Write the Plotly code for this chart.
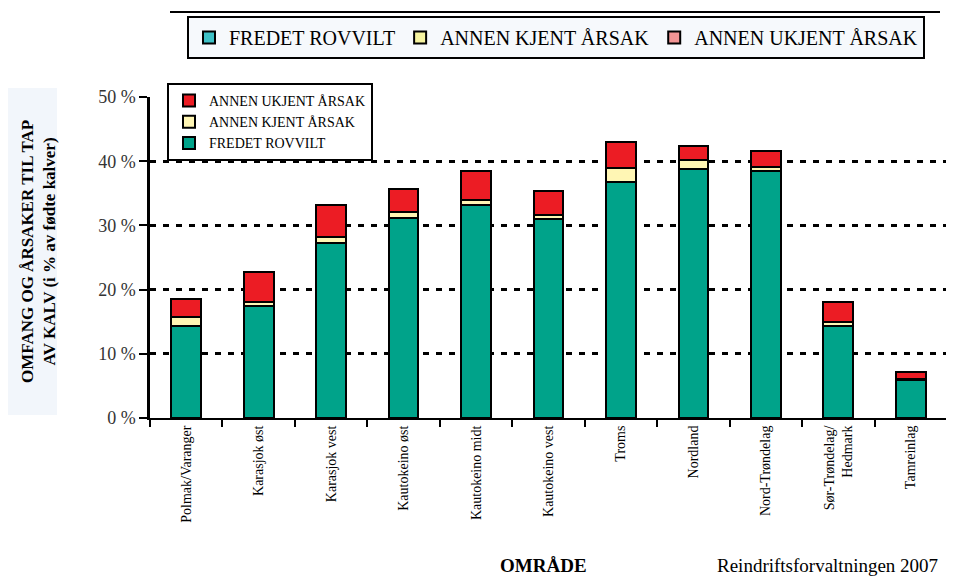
import plotly.graph_objects as go

categories = ["Polmak/Varanger", "Karasjok øst", "Karasjok vest", "Kautokeino øst",
              "Kautokeino midt", "Kautokeino vest", "Troms", "Nordland",
              "Nord-Trøndelag", "Sør-Trøndelag/<br>Hedmark", "Tamreinlag"]
fredet_rovvilt = [14.3, 17.5, 27.3, 31.2, 33.2, 31.0, 36.8, 38.8, 38.5, 14.4, 5.9]
annen_kjent = [1.5, 0.5, 0.9, 0.9, 0.7, 0.6, 2.2, 1.4, 0.6, 0.6, 0.2]
annen_ukjent = [2.7, 4.8, 5.0, 3.6, 4.6, 3.8, 4.0, 2.1, 2.5, 3.0, 1.1]
y_ticks = [0, 10, 20, 30, 40, 50]
y_tick_labels = ["0 %", "10 %", "20 %", "30 %", "40 %", "50 %"]

GREEN = "#00A38A"
YELLOW = "#FFF6B4"
RED = "#EC1C24"
SERIF = "Liberation Serif"

fig = go.Figure()
for name, vals, col in [("FREDET ROVVILT", fredet_rovvilt, GREEN),
                        ("ANNEN KJENT ÅRSAK", annen_kjent, YELLOW),
                        ("ANNEN UKJENT ÅRSAK", annen_ukjent, RED)]:
    fig.add_trace(go.Bar(x=categories, y=vals, name=name, marker_color=col,
                         marker_line=dict(color="black", width=2), legend="legend"))

# top legend entries (different palette)
for name, col in [("FREDET ROVVILT", "#3EC1C6"), ("ANNEN KJENT ÅRSAK", "#F6F4A0"),
                  ("ANNEN UKJENT ÅRSAK", "#F29494")]:
    fig.add_trace(go.Bar(x=[None], y=[None], name=name, marker_color=col,
                         marker_line=dict(color="black", width=2), legend="legend2",
                         showlegend=True))

OFF = 8  # page offset of the figure inside the browser page
W, H = 946, 570
L, R, T, B = 150 - OFF, 7, 97 - OFF, 160
pw, ph = W - L - R, H - T - B

def px(x):
    return (x - OFF - L) / pw

def py(y):
    return (H - B - (y - OFF)) / ph

fig.update_layout(
    width=W, height=H,
    margin=dict(l=L, r=R, t=T, b=B, autoexpand=False),
    barmode="stack", bargap=0.59,
    plot_bgcolor="white", paper_bgcolor="white",
    font=dict(family=SERIF, color="black"),
    legend=dict(x=px(167), y=py(83), xanchor="left", yanchor="top",
                traceorder="reversed", bgcolor="white", bordercolor="black",
                borderwidth=2, font=dict(size=14, family=SERIF),
                tracegroupgap=0, itemwidth=30),
    legend2=dict(x=px(556), y=py(16), xanchor="center", yanchor="top",
                 orientation="h", traceorder="normal", bgcolor="#F6F9FC",
                 bordercolor="black", borderwidth=2,
                 font=dict(size=20, family=SERIF), itemwidth=30),
    xaxis=dict(showline=True, linecolor="black", linewidth=2,
               tickangle=-90, tickfont=dict(size=14, family=SERIF),
               showgrid=False, ticks="outside", tickson="boundaries",
               ticklen=7, tickwidth=2, tickcolor="black"),
    yaxis=dict(range=[0, 50], tickvals=y_ticks, ticktext=y_tick_labels,
               showline=True, linecolor="black", linewidth=2.5,
               ticks="outside", ticklen=8, tickwidth=2, tickcolor="black",
               tickfont=dict(size=18, family=SERIF, color="#333"),
               showgrid=True, gridcolor="black", gridwidth=3,
               griddash="6px,7px", zeroline=False),
    showlegend=True,
)

shapes = [
    dict(type="rect", xref="paper", yref="paper", x0=px(5), x1=px(57),
         y0=py(415), y1=py(88), fillcolor="#F2F6FB", line=dict(width=0),
         layer="below"),
    dict(type="line", xref="paper", yref="paper", x0=px(170), x1=px(940),
         y0=py(12), y1=py(12), line=dict(color="black", width=2)),
]
fig.update_layout(shapes=shapes)

fig.add_annotation(xref="paper", yref="paper", x=px(38), y=py(252),
                   text="<b>OMFANG OG ÅRSAKER TIL TAP<br>AV KALV (i % av fødte kalver)</b>",
                   textangle=-90, showarrow=False, font=dict(size=17, family=SERIF),
                   xanchor="center", yanchor="middle")
fig.add_annotation(xref="paper", yref="paper", x=px(543), y=py(565),
                   text="<b>OMRÅDE</b>", showarrow=False,
                   font=dict(size=19, family=SERIF), xanchor="center", yanchor="middle")
fig.add_annotation(xref="paper", yref="paper", x=px(940), y=py(565),
                   text="Reindriftsforvaltningen 2007", showarrow=False,
                   font=dict(size=19, family=SERIF), xanchor="right", yanchor="middle")

fig.write_html("out.html")
